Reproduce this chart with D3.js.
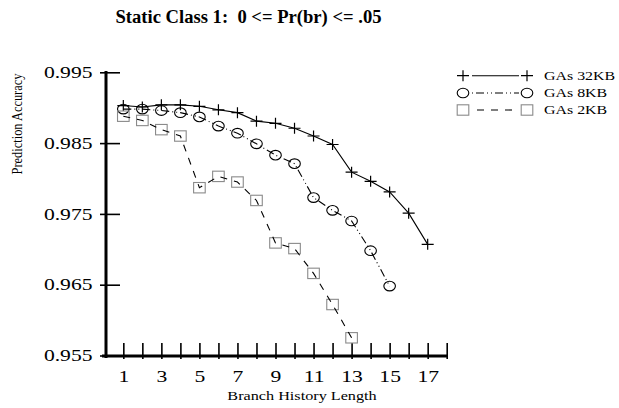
<!DOCTYPE html>
<html>
<head>
<meta charset="utf-8">
<script src="https://cdn.jsdelivr.net/npm/d3@7"></script>
<style>
  html, body { margin: 0; padding: 0; background: #fff; }
  svg { display: block; }
  text { font-family: "Liberation Serif", "Times New Roman", serif; fill: #000; }
</style>
</head>
<body>
<svg id="chart" width="619" height="408"></svg>
<script>
// Branch history lengths and prediction accuracy per predictor size
const historyLengths32 = [1,2,3,4,5,6,7,8,9,10,11,12,13,14,15,16,17];
const gas32KB = [0.9903,0.9901,0.9904,0.9904,0.9902,0.9897,0.9893,0.9881,0.9878,0.9871,0.9860,0.9848,0.9809,0.9796,0.9781,0.9751,0.9707];
const historyLengths8 = [1,2,3,4,5,6,7,8,9,10,11,12,13,14,15];
const gas8KB = [0.9898,0.9898,0.9896,0.9893,0.9887,0.9874,0.9864,0.9849,0.9833,0.9821,0.9773,0.9755,0.9740,0.9698,0.9648];
const historyLengths2 = [1,2,3,4,5,6,7,8,9,10,11,12,13];
const gas2KB = [0.9888,0.9882,0.9869,0.9860,0.9787,0.9803,0.9795,0.9769,0.9709,0.9701,0.9666,0.9622,0.9575];

const seriesNames = ["GAs 32KB", "GAs 8KB", "GAs 2KB"];
const yTickValues = [0.955, 0.965, 0.975, 0.985, 0.995];
const xLabelTicks = [1,3,5,7,9,11,13,15,17];
const xMinorTicks = d3.range(1, 19);

const titleText = "Static Class 1:  0 <= Pr(br) <= .05";
const xTitle = "Branch History Length";
const yTitle = "Prediction Accuracy";

// Labels use a wide setting of the serif face
const STRETCH = 1.35;

const svg = d3.select("#chart");

const x = d3.scaleLinear().domain([0, 18]).range([104.3, 446.7]);
const y = d3.scaleLinear().domain([0.955, 0.995]).range([355.5, 72.3]);

function wideText(px, py, str, size, anchor, weight, stretch) {
  const k = stretch == null ? STRETCH : stretch;
  return svg.append("text")
    .attr("transform", `translate(${px},${py}) scale(${k},1)`)
    .attr("text-anchor", anchor || "start")
    .style("font-size", size + "px")
    .style("font-weight", weight || "normal")
    .attr("xml:space", "preserve")
    .text(str);
}

// Title
wideText(248.5, 23, titleText, 18.6, "middle", "bold", 1);

// Y axis
const yAxis = d3.axisLeft(y).tickValues(yTickValues).tickSize(0).tickPadding(0)
  .tickFormat(d3.format(".3f"));
const yG = svg.append("g").attr("transform", "translate(106,0)").call(yAxis);
yG.select(".domain").remove();
yG.selectAll("text")
  .attr("x", -13.5 / STRETCH)
  .attr("transform", `scale(${STRETCH},1)`)
  .style("font-size", "16px").style("font-family", "Liberation Serif, serif");
yG.selectAll(".tick").append("line")
  .attr("x1", -6).attr("x2", 14).attr("y1", 0).attr("y2", 0)
  .attr("stroke", "#000").attr("stroke-width", 1.6);
svg.append("line").attr("x1", 106).attr("x2", 106).attr("y1", 71).attr("y2", 358)
  .attr("stroke", "#000").attr("stroke-width", 3);

// X axis
const xAxis = d3.axisBottom(x).tickValues(xMinorTicks).tickSize(0).tickPadding(15)
  .tickFormat(d => xLabelTicks.includes(d) ? d : "");
const xG = svg.append("g").attr("transform", "translate(0,356)").call(xAxis);
xG.select(".domain").remove();
xG.selectAll("text")
  .attr("transform", `scale(${STRETCH},1)`)
  .attr("x", 0)
  .style("font-size", "16px").style("font-family", "Liberation Serif, serif");
xG.selectAll(".tick").append("line")
  .attr("x1", 0).attr("x2", 0).attr("y1", -13).attr("y2", 3)
  .attr("stroke", "#000").attr("stroke-width", 1.6);
svg.append("line").attr("x1", 102).attr("x2", 447.5).attr("y1", 356).attr("y2", 356)
  .attr("stroke", "#000").attr("stroke-width", 3);

// Axis titles
wideText(302, 400, xTitle, 12, "middle");
svg.append("text")
  .attr("transform", "translate(21.7,124) scale(1.2,1) rotate(-90)")
  .attr("text-anchor", "middle").style("font-size", "12.4px")
  .text(yTitle);

// Series definitions
const series = [
  { name: seriesNames[0], xs: historyLengths32, ys: gas32KB, dash: null, legendOffset: 0, marker: "plus", color: "#000" },
  { name: seriesNames[1], xs: historyLengths8, ys: gas8KB, dash: "8,3,1,3,1,3", legendOffset: 15, marker: "circle", color: "#000" },
  { name: seriesNames[2], xs: historyLengths2, ys: gas2KB, dash: "7,7", legendOffset: 9, marker: "square", color: "#8a8a8a" }
];

function drawMarker(g, type, cx, cy, color) {
  if (type === "plus") {
    g.append("path").attr("d", `M${cx-6},${cy}H${cx+6}M${cx},${cy-5.5}V${cy+5.5}`)
      .attr("stroke", "#000").attr("stroke-width", 1.2).attr("fill", "none");
  } else if (type === "circle") {
    g.append("ellipse").attr("cx", cx).attr("cy", cy).attr("rx", 5.8).attr("ry", 4.8)
      .attr("stroke", "#000").attr("stroke-width", 1.1).attr("fill", "none");
  } else {
    g.append("rect").attr("x", cx - 5.8).attr("y", cy - 5.2).attr("width", 11.6).attr("height", 10.4)
      .attr("stroke", color).attr("stroke-width", 1.1).attr("fill", "none");
  }
}

const line = d3.line().x(d => x(d[0])).y(d => y(d[1]));

series.forEach(s => {
  const pts = s.xs.map((v, i) => [v, s.ys[i]]);
  const g = svg.append("g");
  pts.forEach(p => drawMarker(g, s.marker, x(p[0]), y(p[1]), s.color));
  const path = g.append("path").datum(pts).attr("d", line)
    .attr("fill", "none").attr("stroke", "#000").attr("stroke-width", 1.1);
  if (s.dash) path.attr("stroke-dasharray", s.dash);
});

// Legend
const legendRows = [75.7, 93, 110];
series.forEach((s, i) => {
  const ly = legendRows[i];
  const g = svg.append("g");
  drawMarker(g, s.marker, 463, ly, s.color);
  drawMarker(g, s.marker, 527, ly, s.color);
  const l = g.append("line").attr("x1", 472).attr("x2", 519).attr("y1", ly).attr("y2", ly)
    .attr("stroke", "#000").attr("stroke-width", 1.1);
  if (s.dash) l.attr("stroke-dasharray", s.dash).attr("stroke-dashoffset", s.legendOffset);
  wideText(544, ly + 4.3, s.name, 11.8);
});
</script>
</body>
</html>
